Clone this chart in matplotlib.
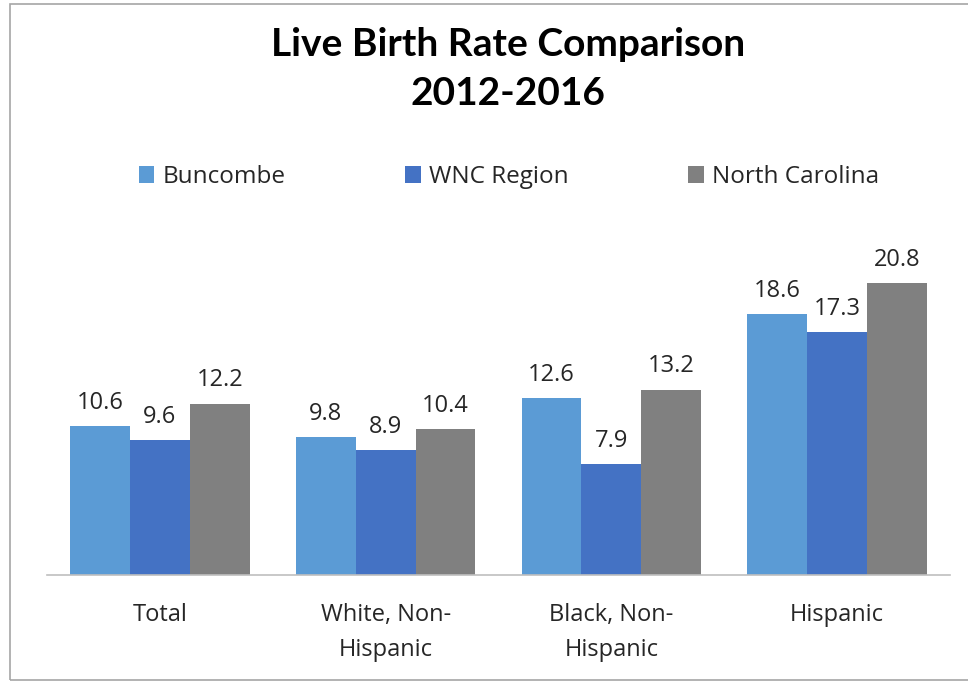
import matplotlib
matplotlib.use("Agg")
import matplotlib.pyplot as plt
import numpy as np
from matplotlib.patches import Rectangle

categories = ["Total", "White, Non-\nHispanic", "Black, Non-\nHispanic", "Hispanic"]
series_names = ["Buncombe", "WNC Region", "North Carolina"]
buncombe = [10.6, 9.8, 12.6, 18.6]
wnc = [9.6, 8.9, 7.9, 17.3]
nc = [12.2, 10.4, 13.2, 20.8]
colors = ["#5B9BD5", "#4472C4", "#808080"]

plt.rcParams['font.family'] = ['Open Sans', 'DejaVu Sans']

fig = plt.figure(figsize=(9.68, 6.83), dpi=100)
fig.patches.append(Rectangle((10/968, 3/683), 1.2, 676/683, transform=fig.transFigure,
                             fill=False, edgecolor="#A6A6A6", linewidth=1.2))

ax = fig.add_axes([47/968, 108/683, 903/968, 351/683])
x = np.arange(len(categories))
w = 0.265
for i, (vals, name, c) in enumerate(zip([buncombe, wnc, nc], series_names, colors)):
    bars = ax.bar(x + (i - 1) * w, vals, w, color=c, label=name, zorder=2)
    for b, v in zip(bars, vals):
        ax.text(b.get_x() + b.get_width() / 2, v + 0.8, f"{v:.1f}", ha="center", va="bottom",
                fontsize=17, color="#262626")

ax.set_xlim(-0.5, 3.5)
ax.set_ylim(0, 25)
for s in ["top", "right", "left"]:
    ax.spines[s].set_visible(False)
ax.spines["bottom"].set_color("#BFBFBF")
ax.spines["bottom"].set_linewidth(1.2)
ax.set_yticks([])
ax.set_xticks(x)
ax.set_xticklabels(categories, fontsize=17, color="#262626", linespacing=1.62)
ax.tick_params(axis="x", length=0, pad=20)

fig.text(508/968, 1 - 69/683, "Live Birth Rate Comparison\n2012-2016", ha="center", va="center",
         fontsize=28, fontweight="bold", family=["Lato", "DejaVu Sans"], linespacing=1.5, color="black")

leg = fig.legend(loc="center", bbox_to_anchor=(509/968, 1 - 177/683), ncol=3, frameon=False,
                 fontsize=17.5, handlelength=0.65, handleheight=0.65, handletextpad=0.35,
                 columnspacing=4.9)
for t in leg.get_texts():
    t.set_color("#262626")

fig.savefig("out.png", dpi=100)
